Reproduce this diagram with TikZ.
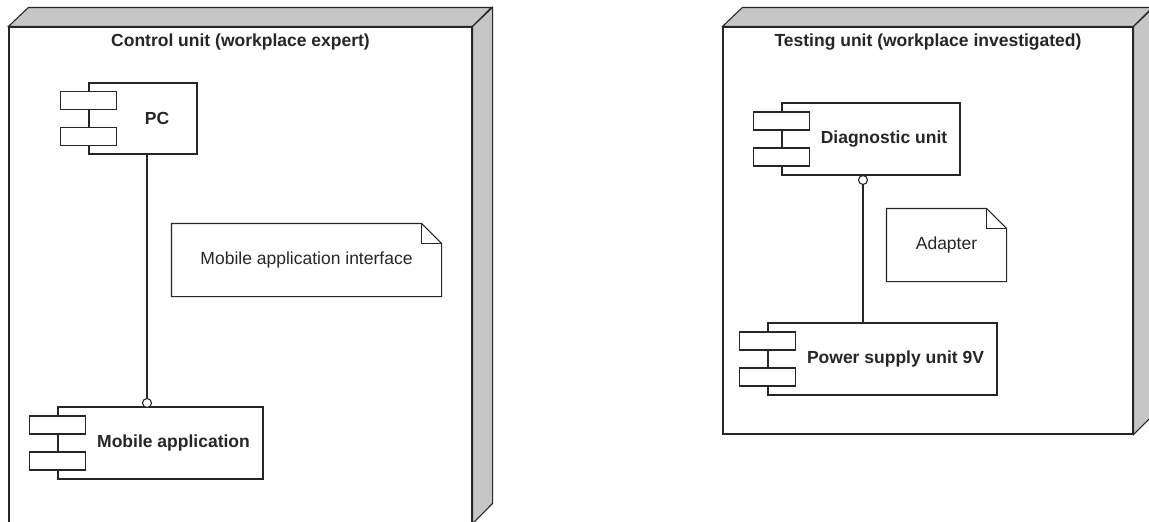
\documentclass[tikz,border=0pt]{standalone}
\usepackage{fontspec}
\setmainfont{Liberation Sans}
\usetikzlibrary{positioning}

\begin{document}
\begin{tikzpicture}[x=1pt,y=-1pt,line width=1.1pt,color=black!85,
  devbox/.style={draw,fill=white,inner sep=0pt},
  side/.style={draw,fill=gray!45},
  comp/.style={draw,fill=white,minimum height=72,inner sep=0pt},
  port/.style={draw,fill=white,minimum width=56,minimum height=18,inner sep=0pt},
  lolli/.style={draw,fill=white,circle,minimum size=9,inner sep=0pt},
  note/.style={minimum height=72,inner sep=0pt,font=\fontsize{17.5}{21}\selectfont},
  btxt/.style={font=\fontsize{17.5}{21}\selectfont\bfseries}]
  \useasboundingbox (0,0) rectangle (1149,522);

  % deployment nodes
  \node[devbox,minimum width=463,minimum height=496] (ctrl) at (240.5,275) {};
  \draw[side] (ctrl.north west) -- ++(20,-19) -- ++(463,0) -- (ctrl.north east) -- cycle;
  \draw[side] (ctrl.north east) -- ++(20,-19) -- ++(0,496) -- (ctrl.south east) -- cycle;
  \node[btxt] (ctrltitle) at ([yshift=-16pt]ctrl.north) {Control unit (workplace expert)};

  \node[devbox,minimum width=410,minimum height=407] (test) at (928,230.5) {};
  \draw[side] (test.north west) -- ++(20,-19) -- ++(410,0) -- (test.north east) -- cycle;
  \draw[side] (test.north east) -- ++(20,-19) -- ++(0,407) -- (test.south east) -- cycle;
  \node[btxt] (testtitle) at ([yshift=-16pt]test.north) {Testing unit (workplace investigated)};

  % components
  \node[comp,minimum width=108,minimum height=71] (pc) at (143,118.5) {};
  \node[port] (pcp1) at ([yshift=18pt]pc.west) {};
  \node[port] (pcp2) at ([yshift=-18pt]pc.west) {};
  \node[btxt] (pctxt) at ([xshift=14pt]pc.center) {PC};

  \node[comp,minimum width=205] (mob) at (160.5,443) {};
  \node[port] (mobp1) at ([yshift=18pt]mob.west) {};
  \node[port] (mobp2) at ([yshift=-18pt]mob.west) {};
  \node[btxt] (mobtxt) at ([xshift=13pt]mob.center) {Mobile application};

  \node[comp,minimum width=178] (diag) at (871,139) {};
  \node[port] (diagp1) at ([yshift=18pt]diag.west) {};
  \node[port] (diagp2) at ([yshift=-18pt]diag.west) {};
  \node[btxt] (diagtxt) at ([xshift=13pt]diag.center) {Diagnostic unit};

  \node[comp,minimum width=229] (psu) at (882.5,359) {};
  \node[port] (psup1) at ([yshift=18pt]psu.west) {};
  \node[port] (psup2) at ([yshift=-18pt]psu.west) {};
  \node[btxt] (psutxt) at ([xshift=13pt]psu.center) {Power supply unit 9V};

  % interfaces
  \node[lolli] (mobport) at (147,403) {};
  \draw (pc.south -| mobport) -- (mobport.north);
  \node[lolli] (diagport) at (863,180) {};
  \draw (diagport.south) -- (diagport |- psu.north);

  % notes
  \node[note,minimum width=269] (ifnote) at (306.5,260) {Mobile application interface};
  \draw (ifnote.north west) -- ([xshift=-20pt]ifnote.north east) -- ([yshift=-20pt]ifnote.north east)
    -- (ifnote.south east) -- (ifnote.south west) -- cycle;
  \draw ([xshift=-20pt]ifnote.north east) |- ([yshift=-20pt]ifnote.north east);

  \node[note,minimum width=119] (adnote) at (946.5,245) {Adapter};
  \draw (adnote.north west) -- ([xshift=-20pt]adnote.north east) -- ([yshift=-20pt]adnote.north east)
    -- (adnote.south east) -- (adnote.south west) -- cycle;
  \draw ([xshift=-20pt]adnote.north east) |- ([yshift=-20pt]adnote.north east);
\end{tikzpicture}
\end{document}
